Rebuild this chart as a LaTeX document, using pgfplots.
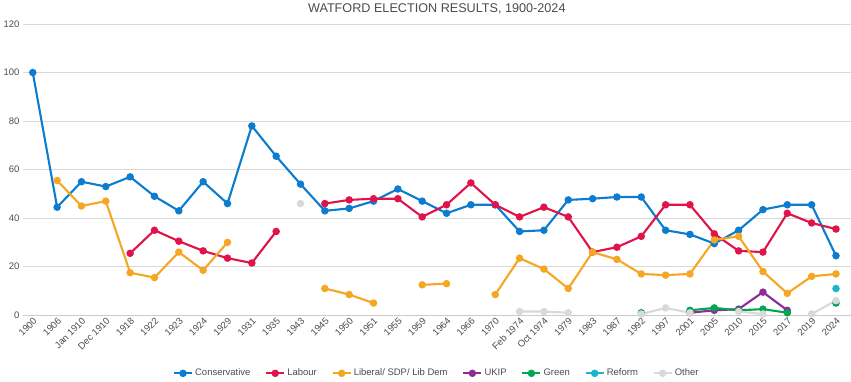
\documentclass[border=0pt]{standalone}
\usepackage{pgfplots}
\pgfplotsset{compat=1.18}
\usepackage{fontspec}
\setmainfont{Liberation Sans}
\definecolor{con}{HTML}{0B7CD0}
\definecolor{lab}{HTML}{E0134A}
\definecolor{ld}{HTML}{F5A623}
\definecolor{ukip}{HTML}{8E2C9A}
\definecolor{grn}{HTML}{00A651}
\definecolor{ref}{HTML}{19B5D0}
\definecolor{oth}{HTML}{D9D9D9}
\begin{document}
\begin{tikzpicture}
\begin{axis}[
  width=29.2cm, height=11.3cm, scale only axis=false,
  title={WATFORD ELECTION RESULTS, 1900-2024},
  title style={font=\large, text=black!70},
  xmin=-0.4, xmax=33.6, ymin=0, ymax=120, ytick={0,20,...,120},
  xtick={0,...,33},
  xticklabels={1900,1906,Jan 1910,Dec 1910,1918,1922,1923,1924,1929,1931,1935,1943,1945,1950,1951,1955,1959,1964,1966,1970,Feb 1974,Oct 1974,1979,1983,1987,1992,1997,2001,2005,2010,2015,2017,2019,2024},
  xticklabel style={rotate=45, anchor=north east, font=\small, text=black!70, inner sep=1pt},
  yticklabel style={font=\small, text=black!70},
  /pgf/number format/assume math mode=true,
  ymajorgrids, grid style={black!15, line width=0.8pt},
  axis x line*=bottom, axis y line*=left,
  x axis line style={black!20}, y axis line style={draw=none}, major tick length=0pt,
  unbounded coords=jump,
  every axis plot/.append style={line width=2pt, mark=*, mark size=2.5pt},
  legend style={at={(0.5,-0.17)}, anchor=north, draw=none, legend columns=-1, font=\small, text=black!70, /tikz/every even column/.append style={column sep=12pt}},
  legend image code/.code={\draw[#1] (0cm,0cm) -- (0.6cm,0cm); \draw[#1,mark repeat=1] plot coordinates {(0.3cm,0cm)};},
]
\addplot[con, mark options={fill=con}] coordinates {(0,100)(1,44.5)(2,55)(3,53)(4,57)(5,49)(6,43)(7,55)(8,46)(9,78)(10,65.5)(11,54)(12,43)(13,44)(14,47)(15,52)(16,47)(17,42)(18,45.5)(19,45.5)(20,34.5)(21,35)(22,47.5)(23,48)(24,48.7)(25,48.7)(26,35)(27,33.3)(28,29.5)(29,35)(30,43.5)(31,45.5)(32,45.5)(33,24.5)};
\addlegendentry{Conservative}
\addplot[lab] coordinates {(4,25.5)(5,35)(6,30.5)(7,26.5)(8,23.5)(9,21.5)(10,34.5)(11,nan)(12,46)(13,47.5)(14,48)(15,48)(16,40.5)(17,45.5)(18,54.5)(19,45.5)(20,40.5)(21,44.5)(22,40.5)(23,26)(24,28)(25,32.5)(26,45.5)(27,45.5)(28,33.5)(29,26.5)(30,26)(31,42)(32,38)(33,35.5)};
\addlegendentry{Labour}
\addplot[ld] coordinates {(1,55.5)(2,45)(3,47)(4,17.5)(5,15.5)(6,26)(7,18.5)(8,30)(9,nan)(12,11)(13,8.5)(14,5)(15,nan)(16,12.5)(17,13)(18,nan)(19,8.5)(20,23.5)(21,19)(22,11)(23,26)(24,23)(25,17)(26,16.5)(27,17)(28,31)(29,32.5)(30,18)(31,9)(32,16)(33,17)};
\addlegendentry{Liberal/ SDP/ Lib Dem}
\addplot[ukip] coordinates {(27,1)(28,2)(29,2.5)(30,9.5)(31,2)};
\addlegendentry{UKIP}
\addplot[grn] coordinates {(25,1)(26,nan)(27,2)(28,3)(29,2)(30,2.5)(31,1)(32,nan)(33,5)};
\addlegendentry{Green}
\addplot[ref] coordinates {(33,11)};
\addlegendentry{Reform}
\addplot[oth] coordinates {(11,46)(12,nan)(20,1.5)(21,1.5)(22,1)(23,nan)(25,0.5)(26,3)(27,1)(28,nan)(29,1.5)(30,0.5)(31,nan)(32,0.5)(33,6)};
\addlegendentry{Other}
\end{axis}
\end{tikzpicture}
\end{document}
